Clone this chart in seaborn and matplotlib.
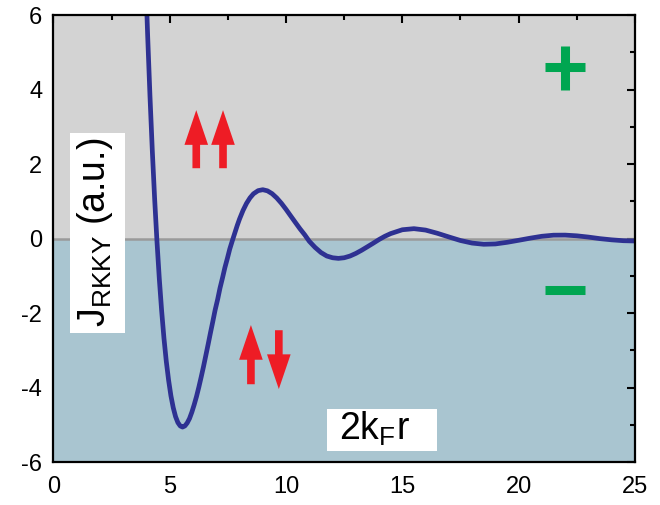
import matplotlib
matplotlib.use("Agg")
import matplotlib.pyplot as plt
import seaborn as sns
import pandas as pd
from matplotlib.ticker import MultipleLocator
from matplotlib.patches import Rectangle

# Values
x_vals = [3.85, 3.95, 4.05, 4.15, 4.25, 4.35, 4.45, 4.55, 4.65, 4.75, 4.85, 4.95,
          5.05, 5.15, 5.25, 5.35, 5.45, 5.55, 5.65, 5.75, 5.85, 5.95, 6.05, 6.15,
          6.25, 6.35, 6.45, 6.55, 6.65, 6.75, 6.85, 6.95, 7.06, 7.16, 7.27, 7.37,
          7.48, 7.58, 7.69, 7.8, 7.9, 8.0, 8.15, 8.3, 8.45, 8.6, 8.8, 9.0, 9.2, 9.4,
          9.6, 9.8, 10.0, 10.2, 10.4, 10.6, 10.8, 11.0, 11.25, 11.5, 11.75, 12.0,
          12.25, 12.5, 12.75, 13.0, 13.25, 13.5, 13.75, 14.0, 14.25, 14.5, 15.0,
          15.5, 16.0, 16.5, 17.0, 17.5, 18.0, 18.5, 19.0, 19.5, 20.0, 20.5, 21.0,
          21.5, 22.0, 22.5, 23.0, 23.5, 24.0, 24.5, 25.0]
j_vals = [9.27, 7.26, 5.45, 3.82, 2.36, 1.07, -0.07, -1.07, -1.93, -2.67, -3.29, -3.80,
          -4.22, -4.54, -4.78, -4.94, -5.03, -5.06, -5.03, -4.95, -4.83, -4.66, -4.46, -4.24,
          -3.99, -3.72, -3.44, -3.14, -2.84, -2.53, -2.23, -1.92, -1.63, -1.33, -1.05, -0.78,
          -0.525, -0.28, -0.057, 0.156, 0.350, 0.526, 0.756, 0.946, 1.094, 1.204, 1.288, 1.313,
          1.283, 1.207, 1.092, 0.949, 0.785, 0.609, 0.435, 0.263, 0.105, -0.072, -0.237, -0.373,
          -0.467, -0.514, -0.531, -0.514, -0.468, -0.398, -0.3125, -0.218, -0.1226, -0.024,
          0.063, 0.135, 0.238, 0.267, 0.229, 0.144, 0.045, -0.051, -0.120, -0.152, -0.143,
          -0.100, -0.045, 0.012, 0.063, 0.092, 0.094, 0.075, 0.041, -0.001, -0.033, -0.056,
          -0.064]

x_ticks = [0, 5, 10, 15, 20, 25]
y_ticks = [-6, -4, -2, 0, 2, 4, 6]

sns.set_theme(style="white")
plt.rcParams["font.family"] = ["Liberation Sans", "DejaVu Sans"]
plt.rcParams["mathtext.fontset"] = "custom"
plt.rcParams["mathtext.rm"] = "Liberation Sans"
plt.rcParams["mathtext.it"] = "Liberation Sans"
plt.rcParams["axes.unicode_minus"] = False

fig = plt.figure(figsize=(6.6, 5.05), dpi=100)
ax = fig.add_axes([0.081, 0.085, 0.881, 0.885])

ax.axhspan(0, 6, color="#d3d3d3", zorder=0, lw=0)
ax.axhspan(-6, 0, color="#a9c5d0", zorder=0, lw=0)
ax.axhline(0, color="#9a9a9a", lw=1.8, zorder=1)

df = pd.DataFrame({"x": x_vals, "J": j_vals})
sns.lineplot(data=df, x="x", y="J", ax=ax, color="#2e3192", lw=3.4, zorder=3,
             solid_joinstyle="round", solid_capstyle="round")

ax.set_xlim(0, 25)
ax.set_ylim(-6, 6)
ax.set_xticks(x_ticks)
ax.set_yticks(y_ticks)
ax.xaxis.set_minor_locator(MultipleLocator(2.5))
ax.yaxis.set_minor_locator(MultipleLocator(1))
ax.tick_params(which="both", direction="in", top=True, right=True, width=1.5, colors="black",
               labelsize=17, labelcolor="black")
ax.tick_params(axis="x", which="major", length=6, pad=10)
ax.tick_params(axis="y", which="major", length=6, pad=8)
ax.tick_params(which="minor", length=3.5)
ax.set_xlabel("")
ax.set_ylabel("")
for s in ax.spines.values():
    s.set_visible(True)
    s.set_color("black")
    s.set_linewidth(1.6)
    s.set_zorder(5)

# Label boxes
ax.add_patch(Rectangle((0.71, -2.54), 2.35, 5.37, facecolor="white", edgecolor="none", zorder=5))
ax.text(1.80, 0.17, r"J$_{\mathrm{RKKY}}$ (a.u.)", rotation=90, ha="center", va="center",
        fontsize=27, color="black", zorder=6)
ax.add_patch(Rectangle((11.78, -5.70), 4.70, 1.12, facecolor="white", edgecolor="none", zorder=5))
ax.text(13.82, -5.10, r"2k$_{\mathrm{F}}$r", ha="center", va="center", fontsize=27,
        color="black", zorder=6)

# Spin arrows
red = "#ee1c25"
style = "simple,head_length=2.5,head_width=1.7,tail_width=0.55"
def arrow(x0, y0, x1, y1):
    ax.annotate("", xy=(x1, y1), xytext=(x0, y0),
                arrowprops=dict(arrowstyle=style, color=red, mutation_scale=10,
                                shrinkA=0, shrinkB=0, lw=0), zorder=4)
arrow(6.14, 1.89, 6.14, 3.45)
arrow(7.29, 1.89, 7.29, 3.45)
arrow(8.49, -3.91, 8.49, -2.32)
arrow(9.69, -2.46, 9.69, -4.04)

# Sign markers
green = "#00a651"
ax.plot([21.15, 22.85], [4.6, 4.6], color=green, lw=6.5, solid_capstyle="butt", zorder=4)
ax.plot([22.0, 22.0], [4.0, 5.17], color=green, lw=6.5, solid_capstyle="butt", zorder=4)
ax.plot([21.15, 22.85], [-1.38, -1.38], color=green, lw=6.5, solid_capstyle="butt", zorder=4)

fig.savefig("out.png", dpi=100)
